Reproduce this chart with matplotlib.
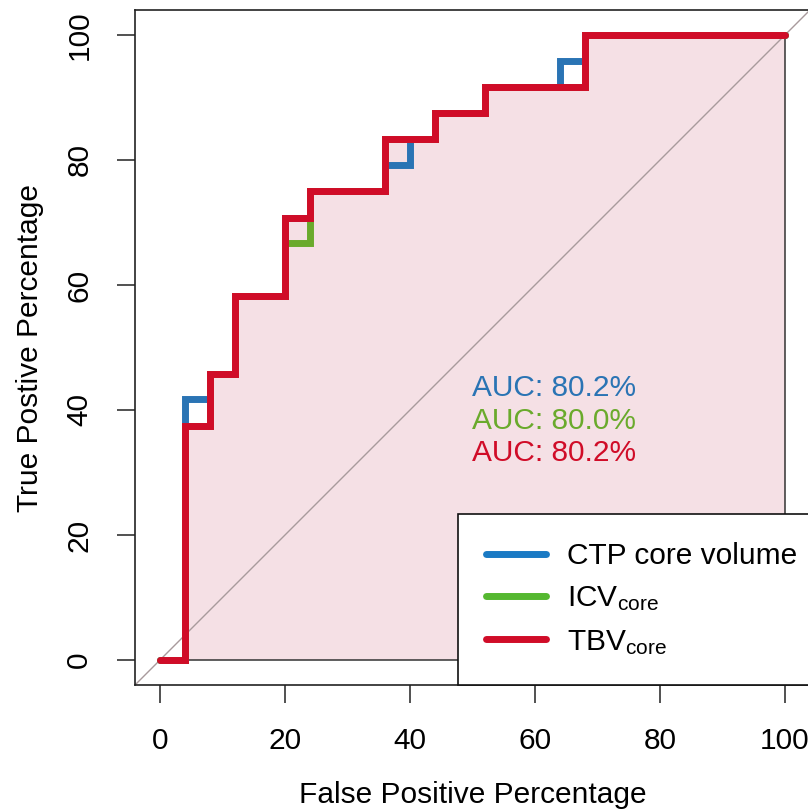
import matplotlib
matplotlib.use('Agg')
import matplotlib.pyplot as plt

plt.rcParams['font.family'] = ['Liberation Sans', 'DejaVu Sans']
plt.rcParams['mathtext.default'] = 'regular'

# ROC points (false positive %, true positive %), drawn as post-steps
fpr_ctp = [0, 4, 8, 12, 20, 24, 36, 40, 44, 52, 64, 68, 100]
tpr_ctp = [0, 41.7, 45.8, 58.3, 70.8, 75.0, 79.2, 83.3, 87.5, 91.7, 95.8, 100, 100]

fpr_icv = [0, 4, 8, 12, 20, 24, 36, 44, 52, 68, 100]
tpr_icv = [0, 37.5, 45.8, 58.3, 66.7, 75.0, 83.3, 87.5, 91.7, 100, 100]

fpr_tbv = [0, 4, 8, 12, 20, 24, 36, 44, 52, 68, 100]
tpr_tbv = [0, 37.5, 45.8, 58.3, 70.8, 75.0, 83.3, 87.5, 91.7, 100, 100]

labels = ['CTP core volume', r'ICV$_{core}$', r'TBV$_{core}$']
auc_text = ['AUC: 80.2%', 'AUC: 80.0%', 'AUC: 80.2%']
colors = ['#2a74b4', '#6aaa2c', '#d00c28']
legend_colors = ['#1a7ac4', '#55b830', '#d00c28']

ticks = [0, 20, 40, 60, 80, 100]
fs = 21.5

fig = plt.figure(figsize=(8.08, 8.09), dpi=100)
ax = fig.add_axes([135 / 808, 124 / 809, 675 / 808, 675 / 809])

# shaded area under the TBV curve
ax.fill_between(fpr_tbv, tpr_tbv, 0, step='post', facecolor='#f5e0e5',
                edgecolor='#333333', linewidth=1.1, zorder=1)
ax.axline((0, 0), slope=1, color='#a89a9c', linewidth=1.0, zorder=2)

for fx, ty, c in [(fpr_ctp, tpr_ctp, colors[0]), (fpr_icv, tpr_icv, colors[1]),
                  (fpr_tbv, tpr_tbv, colors[2])]:
    ax.step(fx, ty, where='post', color=c, linewidth=5,
            solid_capstyle='round', solid_joinstyle='miter', zorder=3)

for i, (t, c) in enumerate(zip(auc_text, colors)):
    ax.text(50, 43.5 - i * 5.2, t, color=c, fontsize=fs, ha='left', va='center', zorder=4)

ax.set_xlim(-4, 104)
ax.set_ylim(-4, 104)
ax.set_xticks(ticks)
ax.set_yticks(ticks)
ax.set_xticklabels([str(t) for t in ticks], fontsize=fs)
ax.set_yticklabels([str(t) for t in ticks], fontsize=fs, rotation=90, va='center')
ax.tick_params(length=13, width=1.1, pad=17, color='#222222')
for s in ax.spines.values():
    s.set_linewidth(1.2)
    s.set_color('#222222')

ax.set_xlabel('False Positive Percentage', fontsize=fs)
ax.set_ylabel('True Postive Percentage', fontsize=fs)
ax.xaxis.set_label_coords(0.5, -0.163)
ax.xaxis.label.set_va('center')
ax.yaxis.set_label_coords(-0.156, 0.5)
ax.yaxis.label.set_va('center')

handles = [plt.Line2D([], [], color=c, linewidth=5, solid_capstyle='round')
           for c in legend_colors]
leg = ax.legend(handles, labels, loc='lower left', bbox_to_anchor=(47.7, -4),
                bbox_transform=ax.transData, borderaxespad=0, fontsize=fs,
                frameon=True, fancybox=False, edgecolor='#111111',
                facecolor='white', framealpha=1,
                handlelength=2.0, handletextpad=0.7, labelspacing=0.48,
                borderpad=0.95)
leg.get_frame().set_linewidth(1.2)
leg.set_zorder(5)

fig.savefig('out.png', dpi=100, facecolor='white')
